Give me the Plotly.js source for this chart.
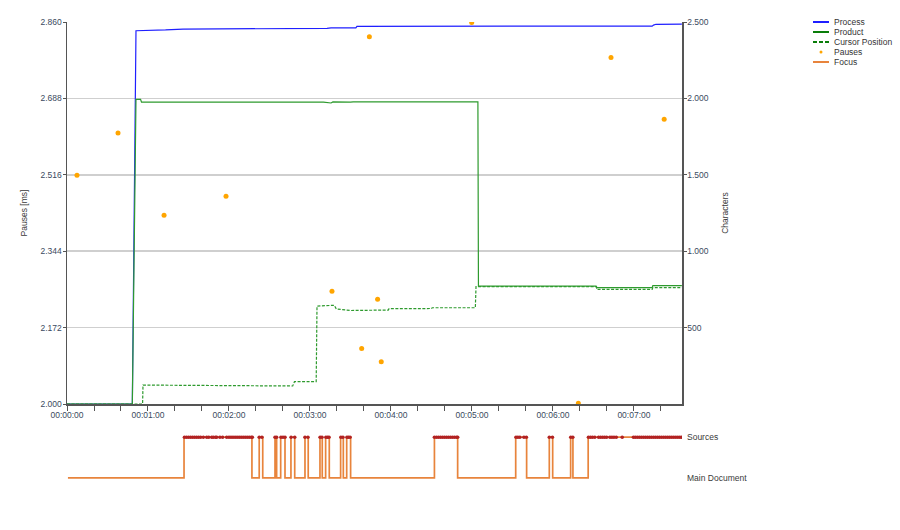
<!DOCTYPE html>
<html>
<head>
<meta charset="utf-8">
<script src="https://cdn.plot.ly/plotly-3.0.1.min.js"></script>
<style>html,body{margin:0;padding:0;background:#fff;}#chart{width:900px;height:530px;}</style>
</head>
<body>
<div id="chart"></div>
<script>
// ---- data (time in seconds) ----
const processT = [0, 48.4, 51.1, 60, 73, 86, 190, 192.6, 195.6, 214, 214.8, 433.5, 434.5, 436.3, 455.5];
const processV = [0, 0, 2443, 2444, 2448, 2454, 2455, 2458, 2461, 2462, 2472, 2473, 2480, 2485, 2486];

const productT = [0, 48.4, 51.1, 54.5, 55.2, 190, 195.6, 197, 210, 212, 304.4, 304.8, 392, 392.6, 433.5, 434, 455.5];
const productV = [0, 0, 1994, 1994, 1975, 1975, 1970, 1977, 1975, 1977, 1977, 772, 772, 762, 762, 775, 775];

const cursorT = [0, 56, 56.3, 100, 160, 167.2, 168.5, 184.6, 185.2, 196, 198, 199.5, 210, 238, 238.6, 270, 270.6, 302.5, 303, 392, 392.6, 433.5, 434, 455.5];
const cursorV = [0, 0, 124, 122, 118, 118, 146, 147, 641, 643, 646, 622, 612, 615, 624, 625, 630, 630, 768, 768, 750, 750, 762, 762];

const pauseT = [7.4, 37.8, 71.9, 117.8, 196.3, 218.3, 224, 230.1, 232.8, 299.8, 378.8, 403, 442.4];
const pauseV = [2515, 2610, 2425, 2468, 2254, 2125, 2827, 2236, 2095, 2859, 2002, 2780, 2641];

const focusT = [0.7, 86.7, 137, 142.4, 145.0, 154.1, 155.3, 158.3, 161.5, 165.9, 168.7, 176.3, 178.7, 187.4, 189.1, 191.6, 194.3, 202.7, 204.7, 207.2, 210.1, 272.2, 289.4, 332.4, 340.5, 357.3, 359.8, 373.1, 374.8, 386.1, 455.5];
const focusLevel = [0, 1, 0, 1, 0, 1, 0, 1, 0, 1, 0, 1, 0, 1, 0, 1, 0, 1, 0, 1, 0, 1, 0, 1, 0, 1, 0, 1, 0, 1, 1];
const focusLabels = ['Main Document', 'Sources'];

const sourcesMarkT = [87, 88.5, 90, 91.5, 93, 94.5, 96, 97.5, 99, 101, 103.5, 105, 107.2, 108.4, 110, 110.9, 113.3, 115.3,
  118.3, 120, 121.5, 123, 124.5, 126, 127.5, 129, 130.5, 132, 133.5, 135, 136.5, 137.3,
  142.4, 144.4, 154.1, 155.3, 158.5, 160, 161.5, 166, 168.7, 176.3, 178.5, 187.5, 188.9, 191.8, 193, 194.1, 202.9, 204.4, 207.4, 208.5, 209.7,
  272.2, 273.7, 275.2, 276.7, 278.2, 279.7, 281.2, 282.7, 284.2, 285.7, 287.2, 288.7, 289.4,
  332.6, 334, 335.5, 338.5, 340.3, 357.3, 359.6, 373.2, 374.7,
  386.3, 387.8, 389.3, 391, 393.8, 395.3, 396.8, 398.3, 399.8, 402.2, 403.7, 405.2, 406.9, 411.3,
  419.6, 421, 422.5, 424, 425.5, 427, 428.5, 430, 431.5, 433, 434.5, 436, 437.5, 439, 440.5, 442, 443.5, 445, 446.5, 448, 449.5, 451, 452.5, 454, 455.3];
const sourcesMarkLevel = sourcesMarkT.map(() => 1);

const xTickSec = [0, 60, 120, 180, 240, 300, 360, 420];
const xTickLabel = ['00:00:00', '00:01:00', '00:02:00', '00:03:00', '00:04:00', '00:05:00', '00:06:00', '00:07:00'];
const xMinorSec = [20, 40, 80, 100, 140, 160, 200, 220, 260, 280, 320, 340, 380, 400, 440];
const leftTicks = [2000, 2172, 2344, 2516, 2688, 2860];
const rightTicks = [500, 1000, 1500, 2000, 2500];

const legendNames = ['Process', 'Product', 'Cursor Position', 'Pauses', 'Focus'];

// ---- styles ----
const FONT = 'Liberation Sans, Arial, sans-serif';
const TXT = '#3a3a3a';
const AX = '#555555';
const C_PROCESS = '#1f1fff';
const C_PRODUCT = '#2e9a2e';
const C_PRODUCT_LEG = '#0a7d0a';
const C_PAUSE = '#ffa500';
const C_FOCUS = '#e8843c';
const C_SOURCE = '#b22222';

const traces = [
  {x: processT, y: processV, type: 'scatter', mode: 'lines', name: 'Process', xaxis: 'x', yaxis: 'y2',
   line: {color: C_PROCESS, width: 1.2}, showlegend: false, hoverinfo: 'skip'},
  {x: productT, y: productV, type: 'scatter', mode: 'lines', name: 'Product', xaxis: 'x', yaxis: 'y2',
   line: {color: C_PRODUCT, width: 1.2}, showlegend: false, hoverinfo: 'skip'},
  {x: cursorT, y: cursorV, type: 'scatter', mode: 'lines', name: 'Cursor Position', xaxis: 'x', yaxis: 'y2',
   line: {color: C_PRODUCT, width: 1.2, dash: '3px,1.5px'}, showlegend: false, hoverinfo: 'skip'},
  {x: pauseT, y: pauseV, type: 'scatter', mode: 'markers', name: 'Pauses', xaxis: 'x', yaxis: 'y',
   marker: {color: C_PAUSE, size: 5}, showlegend: false, hoverinfo: 'skip'},
  {x: focusT, y: focusLevel, type: 'scatter', mode: 'lines', name: 'Focus', xaxis: 'x2', yaxis: 'y3',
   line: {color: C_FOCUS, width: 1.7, shape: 'hv'}, showlegend: false, hoverinfo: 'skip'},
  {x: sourcesMarkT, y: sourcesMarkLevel, type: 'scatter', mode: 'markers', name: 'Sources', xaxis: 'x2', yaxis: 'y3',
   marker: {color: C_SOURCE, size: 3.6}, showlegend: false, hoverinfo: 'skip'}
];

// manual compact legend (paper coords)
const L = 67, T = 22, PW = 615, PH = 478;
const px2x = p => (p - L) / PW;
const py2y = p => (T + PH - p) / PH;
const legendColors = [C_PROCESS, C_PRODUCT_LEG, C_PRODUCT_LEG, C_PAUSE, C_FOCUS];
const shapes = [];
const annotations = [];
legendNames.forEach((nm, i) => {
  const yy = py2y(22 + i * 10);
  if (nm === 'Pauses') {
    shapes.push({type: 'circle', xref: 'paper', yref: 'paper', x0: px2x(819.5), x1: px2x(822.5), y0: py2y(53.5), y1: py2y(50.5),
      fillcolor: C_PAUSE, line: {width: 0}});
  } else {
    shapes.push({type: 'line', xref: 'paper', yref: 'paper', x0: px2x(813), x1: px2x(829), y0: yy, y1: yy,
      line: {color: legendColors[i], width: 2, dash: nm === 'Cursor Position' ? '4px,2px' : 'solid'}});
  }
  annotations.push({xref: 'paper', yref: 'paper', x: px2x(832), y: yy, xanchor: 'left', yanchor: 'middle',
    text: nm, showarrow: false, font: {family: FONT, size: 8.5, color: '#333'}});
});

const layout = {
  width: 900, height: 530,
  margin: {l: 67, r: 218, t: 22, b: 30, pad: 0},
  paper_bgcolor: '#fff', plot_bgcolor: 'rgba(0,0,0,0)',
  separators: ',.',
  showlegend: false,
  font: {family: FONT, size: 8.5, color: TXT},
  hovermode: false,
  xaxis: {
    domain: [0, 1], anchor: 'y', range: [0, 455.6],
    tickmode: 'array', tickvals: xTickSec, ticktext: xTickLabel,
    ticks: 'outside', ticklen: 5, tickcolor: AX, tickwidth: 1, ticklabelstandoff: -3,
    minor: {tickmode: 'array', tickvals: xMinorSec, ticks: 'outside', ticklen: 5, tickcolor: AX, tickwidth: 1, showgrid: false},
    showline: true, linecolor: AX, linewidth: 1.5, showgrid: false, zeroline: false,
    tickfont: {family: FONT, size: 8.5, color: '#3b4a60'}
  },
  yaxis: {
    domain: [0.2008, 1], anchor: 'x', range: [2000, 2860],
    tickmode: 'array', tickvals: leftTicks, tickformat: ',d',
    ticks: 'outside', ticklen: 3, tickcolor: AX, ticklabelstandoff: -1,
    showline: true, linecolor: AX, linewidth: 1.5,
    showgrid: true, gridcolor: '#cfcfcf', gridwidth: 1.5, zeroline: false,
    title: {text: 'Pauses [ms]', standoff: 11, font: {family: FONT, size: 8.5, color: TXT}},
    tickfont: {family: FONT, size: 8.5, color: '#3b4a60'}
  },
  yaxis2: {
    overlaying: 'y', side: 'right', anchor: 'x', range: [0, 2500],
    tickmode: 'array', tickvals: rightTicks, tickformat: ',d',
    ticks: 'outside', ticklen: 3, tickcolor: AX, ticklabelstandoff: -1,
    showline: true, linecolor: AX, linewidth: 1.5, showgrid: false, zeroline: false,
    title: {text: 'Characters', standoff: 14, font: {family: FONT, size: 8.5, color: TXT}},
    tickfont: {family: FONT, size: 8.5, color: '#3b4a60'}
  },
  xaxis2: {
    domain: [0, 1], anchor: 'y3', matches: 'x',
    showticklabels: false, ticks: '', showline: false, showgrid: false, zeroline: false
  },
  yaxis3: {
    domain: [0.0209, 0.1569], anchor: 'x2', range: [-0.3, 1.3], side: 'right',
    tickmode: 'array', tickvals: [0, 1], ticktext: focusLabels, ticklabelstandoff: 4,
    ticks: '', showline: false, showgrid: false, zeroline: false,
    tickfont: {family: FONT, size: 8.5, color: TXT}
  },
  shapes: shapes,
  annotations: annotations
};

Plotly.newPlot('chart', traces, layout, {staticPlot: true, displayModeBar: false});
</script>
</body>
</html>
